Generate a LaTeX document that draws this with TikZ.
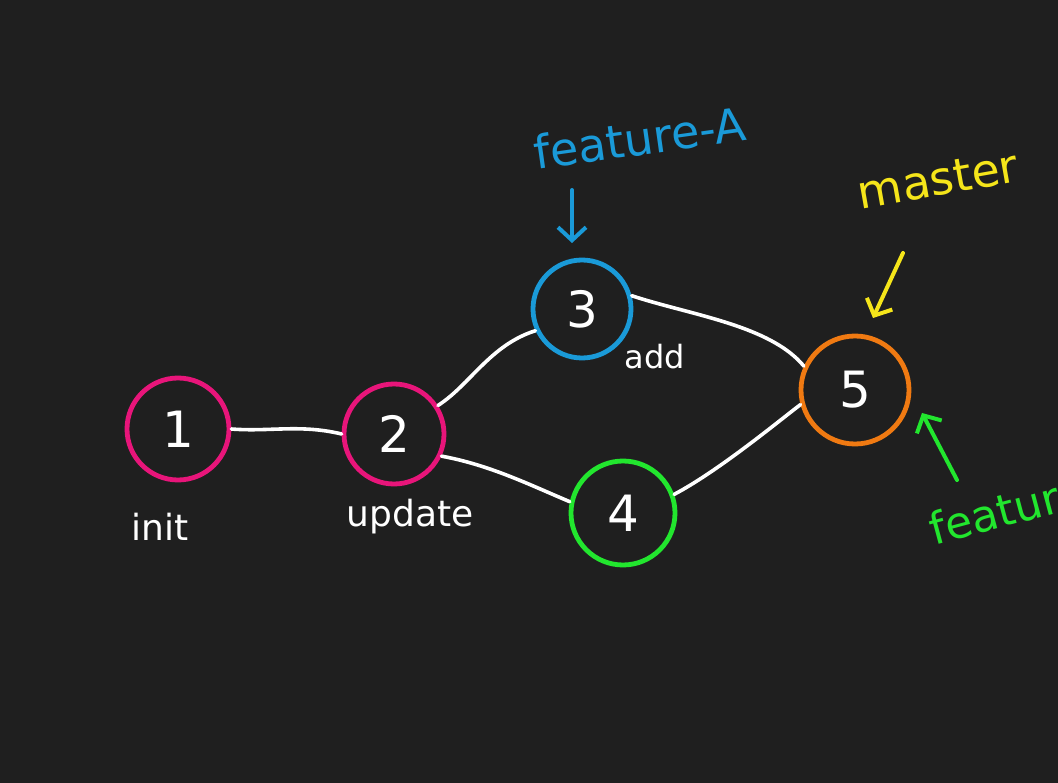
\documentclass[tikz,border=0pt]{standalone}
\usepackage{fontspec}
\setmainfont{DejaVu Sans}
\usetikzlibrary{arrows.meta}
\definecolor{bg}{HTML}{1F1F1F}
\definecolor{cpink}{HTML}{E8157A}
\definecolor{cblue}{HTML}{1A9AD8}
\definecolor{cgreen}{HTML}{22E62E}
\definecolor{corange}{HTML}{F07A12}
\definecolor{cyellow}{HTML}{F5E51A}
\tikzset{
  commit/.style={circle, draw=#1, line width=4.8pt, minimum size=100pt, inner sep=0pt, text=white, font=\fontsize{50}{54}\selectfont},
  edge/.style={draw=white, line width=3.6pt, line cap=round},
  lbl/.style={text=white, font=\fontsize{36}{40}\selectfont, inner sep=0pt},
  ptr/.style={line width=4pt, line cap=round, -{Straight Barb[length=13pt,width=28pt,line width=4pt]}}
}
\begin{document}
\begin{tikzpicture}[x=1pt,y=-1pt]
\fill[bg] (0,0) rectangle (1058,783);
\useasboundingbox (0,0) rectangle (1058,783);
\clip (0,0) rectangle (1058,783);
\node[commit=cpink, minimum size=102pt] (c1) at (178,429) {1};
\node[commit=cpink, minimum size=100pt] (c2) at (394,434) {2};
\node[commit=cblue, minimum size=98pt] (c3) at (582,309) {3};
\node[commit=cgreen, minimum size=104pt] (c4) at (623,513) {4};
\node[commit=corange, minimum size=108pt] (c5) at (855,390) {5};
\draw[edge] (c1.east) .. controls (270,432) and (300,424) .. (c2.west);
\draw[edge] (c2.33) .. controls (470,385) and (490,345) .. (c3.205);
\draw[edge] (c2.-25) .. controls (490,465) and (530,485) .. (c4.168);
\draw[edge] (c3.15) .. controls (690,315) and (770,325) .. (c5.155);
\draw[edge] (c4.20) .. controls (720,470) and (780,420) .. (c5.195);
\node[lbl] (l1) at (160,527) {init};
\node[lbl] (l2) at (410,517) {update};
\node[lbl, font=\fontsize{32}{36}\selectfont] (l3) at (655,357) {add};
\node[lbl, text=cblue, rotate=8, font=\fontsize{46}{50}\selectfont] (fa) at (640,138) {feature-A};
\coordinate (fat) at (572,190);
\coordinate (fah) at (572,243);
\draw[ptr, draw=cblue] (fat) -- (fah);
\node[lbl, text=cyellow, rotate=10, font=\fontsize{46}{50}\selectfont] (ms) at (938,180) {master};
\coordinate (mst) at (903,253);
\coordinate (msh) at (873,318);
\draw[ptr, draw=cyellow] (mst) -- (msh);
\coordinate (fbt) at (957,480);
\coordinate (fbh) at (922,413);
\draw[ptr, draw=cgreen] (fbt) -- (fbh);
\node[lbl, text=cgreen, rotate=15, anchor=west, font=\fontsize{44}{48}\selectfont] (fb) at (930,530) {feature};
\end{tikzpicture}
\end{document}
